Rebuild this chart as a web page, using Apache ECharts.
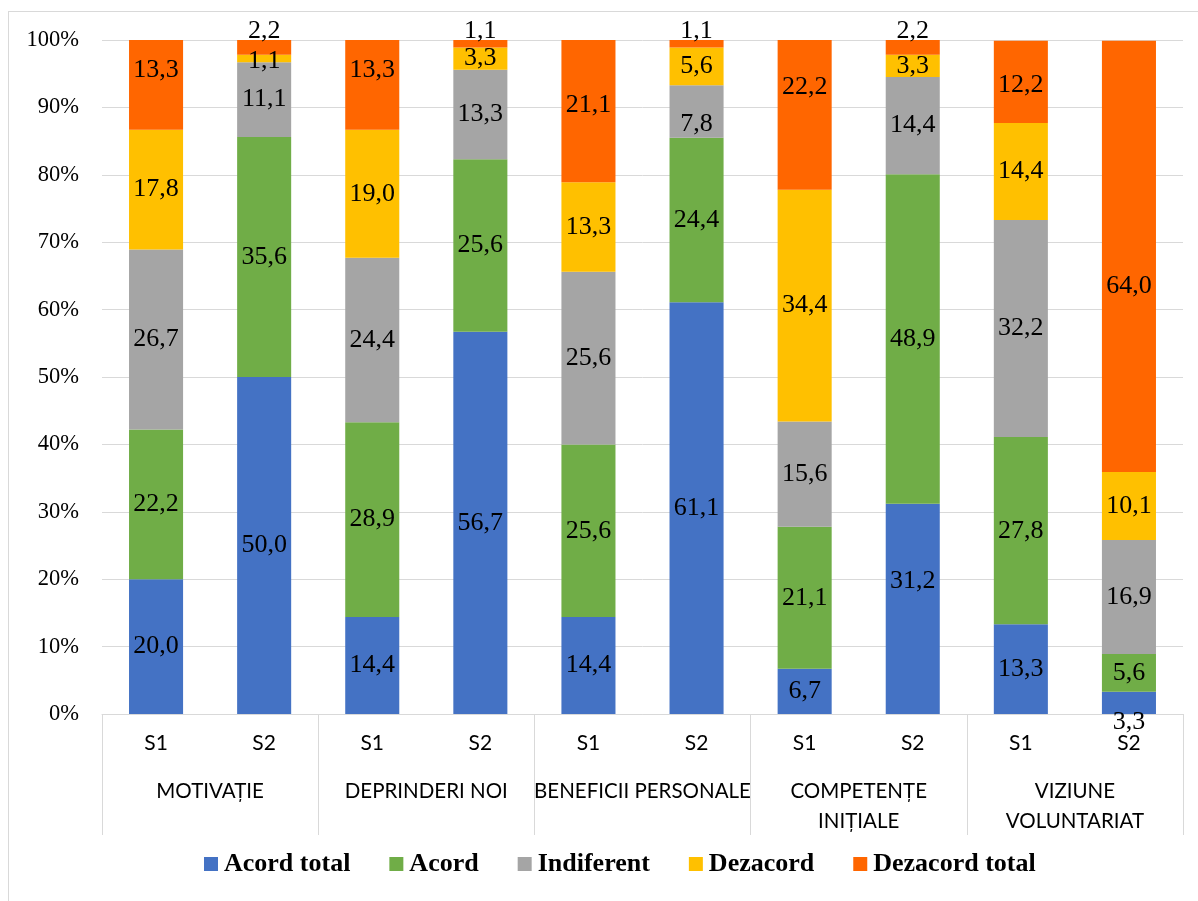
<!DOCTYPE html>
<html>
<head>
<meta charset="utf-8">
<script src="https://cdn.jsdelivr.net/npm/echarts@6/dist/echarts.min.js"></script>
<style>
  html, body { margin: 0; padding: 0; background: #fff; }
  #chart { position: absolute; left: 0; top: 0; width: 1198px; height: 901px; }
  #frame { position: absolute; left: 8px; top: 11px; width: 1200px; height: 900px;
           border: 1px solid #d9d9d9; pointer-events: none; }
</style>
</head>
<body>
<div id="chart"></div>
<div id="frame"></div>
<script>
// Survey answers, percentage of respondents per session (S1 / S2) and dimension
const sessions = ['S1', 'S2', 'S1', 'S2', 'S1', 'S2', 'S1', 'S2', 'S1', 'S2'];
const groups = ['MOTIVAȚIE', 'DEPRINDERI NOI', 'BENEFICII PERSONALE', 'COMPETENȚE\nINIȚIALE', 'VIZIUNE\nVOLUNTARIAT'];

const acordTotal    = [20.0, 50.0, 14.4, 56.7, 14.4, 61.1, 6.7, 31.2, 13.3, 3.3];
const acord         = [22.2, 35.6, 28.9, 25.6, 25.6, 24.4, 21.1, 48.9, 27.8, 5.6];
const indiferent    = [26.7, 11.1, 24.4, 13.3, 25.6, 7.8, 15.6, 14.4, 32.2, 16.9];
const dezacord      = [17.8, 1.1, 19.0, 3.3, 13.3, 5.6, 34.4, 3.3, 14.4, 10.1];
const dezacordTotal = [13.3, 2.2, 13.3, 1.1, 21.1, 1.1, 22.2, 2.2, 12.2, 64.0];

const seriesNames = ['Acord total', 'Acord', 'Indiferent', 'Dezacord', 'Dezacord total'];
const seriesValues = [acordTotal, acord, indiferent, dezacord, dezacordTotal];
const colors = ['#4472C4', '#70AD47', '#A5A5A5', '#FFC000', '#FF6600'];

// Label nudges (series-index - point-index): thin segments and hand-placed labels
const labelShift = {
  '4-0': [0, -15],
  '4-1': [0, -16], '3-1': [0, 3],
  '4-2': [0, -15],
  '4-3': [0, -13],
  '4-4': [0, -6],
  '4-5': [0, -13], '2-5': [0, 13],
  '4-6': [0, -28],
  '4-7': [0, -16], '0-7': [0, -28],
  '4-8': [0, 3],
  '4-9': [0, 30], '0-9': [0, 19]
};

const serif = 'Liberation Serif, Times New Roman, serif';
const sans = 'Lato, Open Sans, sans-serif';

const series = seriesValues.map((vals, s) => ({
  name: seriesNames[s],
  type: 'bar',
  stack: 'total',
  barWidth: '50%',
  itemStyle: { color: colors[s] },
  label: {
    show: true,
    position: 'inside',
    color: '#000',
    fontFamily: serif,
    fontSize: 26,
    formatter: p => p.value.toFixed(1).replace('.', ',')
  },
  data: vals.map((v, i) => {
    const off = labelShift[s + '-' + i];
    return off ? { value: v, label: { offset: off } } : v;
  })
}));

const chart = echarts.init(document.getElementById('chart'), null, { renderer: 'canvas' });
chart.setOption({
  animation: false,
  color: colors,
  grid: { left: 102, right: 15, top: 40, bottom: 187, containLabel: false },
  legend: {
    top: 846,
    left: 199,
    itemWidth: 14,
    itemHeight: 14,
    itemGap: 39,
    icon: 'rect',
    textStyle: { fontFamily: serif, fontWeight: 'bold', fontSize: 26, color: '#000', padding: [0, 0, 0, 1] },
    data: seriesNames
  },
  xAxis: [
    {
      type: 'category',
      data: sessions,
      axisLine: { lineStyle: { color: '#d9d9d9' } },
      axisTick: { show: false },
      axisLabel: { fontFamily: sans, fontSize: 21, color: '#000', margin: 19, interval: 0 }
    },
    {
      type: 'category',
      data: groups,
      position: 'bottom',
      axisLine: { show: false },
      axisTick: { show: true, length: 121, interval: 0, lineStyle: { color: '#d9d9d9' } },
      axisLabel: { fontFamily: sans, fontSize: 20.5, color: '#000', margin: 62, interval: 0, lineHeight: 30 }
    }
  ],
  yAxis: {
    type: 'value',
    min: 0,
    max: 100,
    interval: 10,
    axisLine: { show: false },
    axisTick: { show: false },
    splitLine: { lineStyle: { color: '#d9d9d9' } },
    axisLabel: { formatter: '{value}%', fontFamily: serif, fontSize: 22.5, color: '#000', margin: 23 }
  },
  series: series
});
</script>
</body>
</html>
